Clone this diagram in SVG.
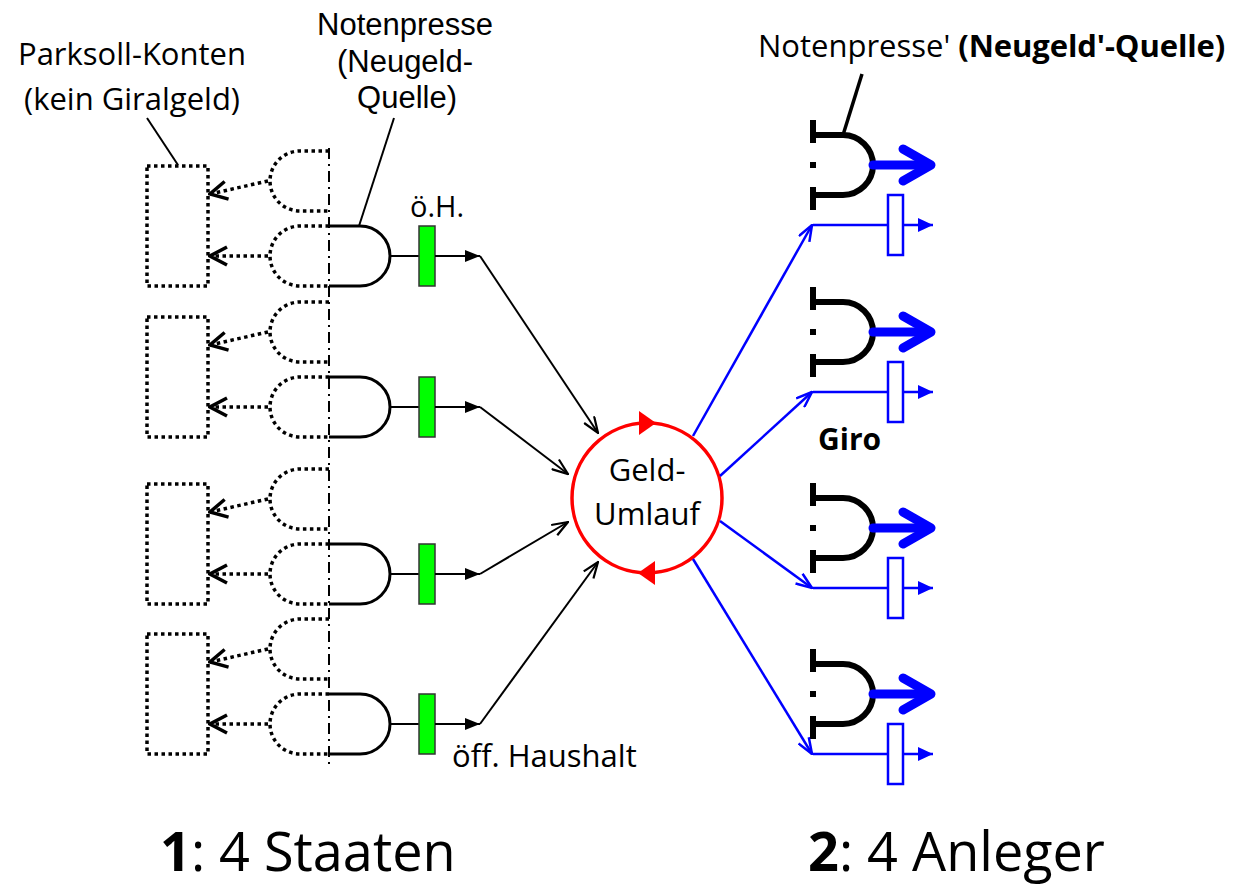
<svg xmlns="http://www.w3.org/2000/svg" width="1243" height="885" viewBox="0 0 1243 885">
<style>
text{font-family:"Open Sans","Noto Sans","Liberation Sans",sans-serif;fill:#000}
.lbl{font-size:31px}
.lib{font-family:"Liberation Sans",Arial,sans-serif;font-size:31px}
.mid{text-anchor:middle}
.dot{fill:none;stroke:#000;stroke-width:3.5;stroke-dasharray:3.5,3.5}
.sol{fill:none;stroke:#000;stroke-width:3}
.thin{fill:none;stroke:#000;stroke-width:2}
.green{fill:#00ff00;stroke:#333;stroke-width:1.5}
.thick{fill:none;stroke:#000;stroke-width:6}
.bl{fill:none;stroke:#0000ff;stroke-width:2.5}
.blbox{fill:#fff;stroke:#0000ff;stroke-width:2.5}
.blfat{fill:none;stroke:#0000ff;stroke-width:9;stroke-linecap:round;stroke-linejoin:round}
</style>
<defs>
<marker id="chev" viewBox="0 0 22 22" refX="20" refY="11" markerWidth="22" markerHeight="22" markerUnits="userSpaceOnUse" orient="auto">
<path d="M3,2 L20,11 L3,20" fill="none" stroke="#000" stroke-width="3.5"/>
</marker>
<marker id="vb" viewBox="0 0 18 14" refX="17" refY="7" markerWidth="18" markerHeight="14" markerUnits="userSpaceOnUse" orient="auto">
<path d="M1,1 L17,7 L1,13" fill="none" stroke="#000" stroke-width="2.2"/>
</marker>
<marker id="vblue" viewBox="0 0 18 14" refX="17" refY="7" markerWidth="18" markerHeight="14" markerUnits="userSpaceOnUse" orient="auto">
<path d="M1,1 L17,7 L1,13" fill="none" stroke="#0000ff" stroke-width="2.5"/>
</marker>
<marker id="tri" viewBox="0 0 15 12" refX="15" refY="6" markerWidth="15" markerHeight="12" markerUnits="userSpaceOnUse" orient="auto">
<path d="M0,0 L15,6 L0,12 z" fill="#000"/>
</marker>
<marker id="trib" viewBox="0 0 15 14" refX="15" refY="7" markerWidth="15" markerHeight="14" markerUnits="userSpaceOnUse" orient="auto">
<path d="M0,0 L15,7 L0,14 z" fill="#0000ff"/>
</marker>
<g id="stateUnit">
<rect x="147" y="-60" width="61" height="120" class="dot"/>
<path d="M329,-75 H300 A30,30 0 0 0 300,-15 H329" class="dot"/>
<path d="M329,0 H300 A30,30 0 0 0 300,60 H329" class="dot"/>
<line x1="268" y1="-45" x2="210" y2="-32" class="dot" marker-end="url(#chev)"/>
<line x1="268" y1="30" x2="210" y2="30" class="dot" marker-end="url(#chev)"/>
<path d="M329,0 H360 A30,30 0 0 1 360,60 H329" class="sol"/>
<line x1="390" y1="30" x2="419" y2="30" class="thin"/>
<rect x="419" y="0" width="16" height="60" class="green"/>
<line x1="435" y1="30" x2="480" y2="30" class="thin" marker-end="url(#tri)"/>
</g>
<g id="anlegerUnit">
<path d="M813,-30 H843 A30,30 0 0 1 843,30 H813" class="thick"/>
<line x1="813" y1="-45" x2="813" y2="-22" class="thick"/>
<line x1="813" y1="22" x2="813" y2="45" class="thick"/>
<rect x="810" y="-3" width="6" height="6" fill="#000"/>
<line x1="873" y1="0" x2="928" y2="0" class="blfat" stroke-width="8"/>
<path d="M903,-16 L931,0 L903,16" class="blfat"/>
<line x1="813" y1="60" x2="933" y2="60" class="bl" marker-end="url(#trib)"/>
<rect x="888" y="30" width="15" height="60" class="blbox"/>
</g>
</defs>

<g id="labels">
<text class="lbl mid" x="132" y="65">Parksoll-Konten</text>
<text class="lbl mid" x="132" y="110">(kein Giralgeld)</text>
<text class="lib mid" x="405" y="35">Notenpresse</text>
<text class="lib mid" x="405" y="72">(Neugeld-</text>
<text class="lib mid" x="407" y="108">Quelle)</text>
<text class="lbl" x="758" y="57">Notenpresse' <tspan font-weight="bold" letter-spacing="-0.1">(Neugeld'-Quelle)</tspan></text>
<text x="410" y="217" font-size="29">ö.H.</text>
<text class="lbl" x="452" y="767">öff. Haushalt</text>
<text x="818" y="450" font-size="30" font-weight="bold">Giro</text>
<text x="160" y="871" font-size="54"><tspan font-weight="bold">1</tspan>: 4 Staaten</text>
<text x="808" y="871" font-size="54"><tspan font-weight="bold">2</tspan>: 4 Anleger</text>
</g>

<g id="divider">
<line x1="329" y1="148" x2="329" y2="768" stroke="#000" stroke-width="2" stroke-dasharray="11,5,2,5"/>
</g>

<g id="staat1"><use href="#stateUnit" transform="translate(0,226)"/></g>
<g id="staat2"><use href="#stateUnit" transform="translate(0,377)"/></g>
<g id="staat3"><use href="#stateUnit" transform="translate(0,544)"/></g>
<g id="staat4"><use href="#stateUnit" transform="translate(0,694)"/></g>

<g id="anleger1"><use href="#anlegerUnit" transform="translate(0,165)"/></g>
<g id="anleger2"><use href="#anlegerUnit" transform="translate(0,332)"/></g>
<g id="anleger3"><use href="#anlegerUnit" transform="translate(0,528)"/></g>
<g id="anleger4"><use href="#anlegerUnit" transform="translate(0,694)"/></g>

<g id="geldumlauf">
<circle cx="647" cy="498" r="75" fill="#fff" stroke="#ff0000" stroke-width="3.5"/>
<path d="M639,411 L656,423 L639,435 z" fill="#ff0000"/>
<path d="M638,573 L655,561 L655,585 z" fill="#ff0000"/>
<text class="lbl mid" x="647" y="481">Geld-</text>
<text class="lbl mid" x="647" y="525">Umlauf</text>
</g>

<g id="connectors">
<line x1="147" y1="118" x2="178" y2="165" class="thin"/>
<line x1="394" y1="118" x2="359" y2="226" class="thin"/>
<line x1="862" y1="74" x2="843" y2="135" stroke="#000" stroke-width="3.5"/>
<line x1="480" y1="256" x2="598" y2="433" class="thin" marker-end="url(#vb)"/>
<line x1="480" y1="407" x2="568" y2="474" class="thin" marker-end="url(#vb)"/>
<line x1="480" y1="574" x2="568" y2="522" class="thin" marker-end="url(#vb)"/>
<line x1="480" y1="724" x2="598" y2="562" class="thin" marker-end="url(#vb)"/>
<line x1="693" y1="436" x2="812" y2="225" class="bl" marker-end="url(#vblue)"/>
<line x1="720" y1="476" x2="812" y2="392" class="bl" marker-end="url(#vblue)"/>
<line x1="720" y1="521" x2="812" y2="588" class="bl" marker-end="url(#vblue)"/>
<line x1="693" y1="559" x2="812" y2="754" class="bl" marker-end="url(#vblue)"/>
</g>
</svg>
